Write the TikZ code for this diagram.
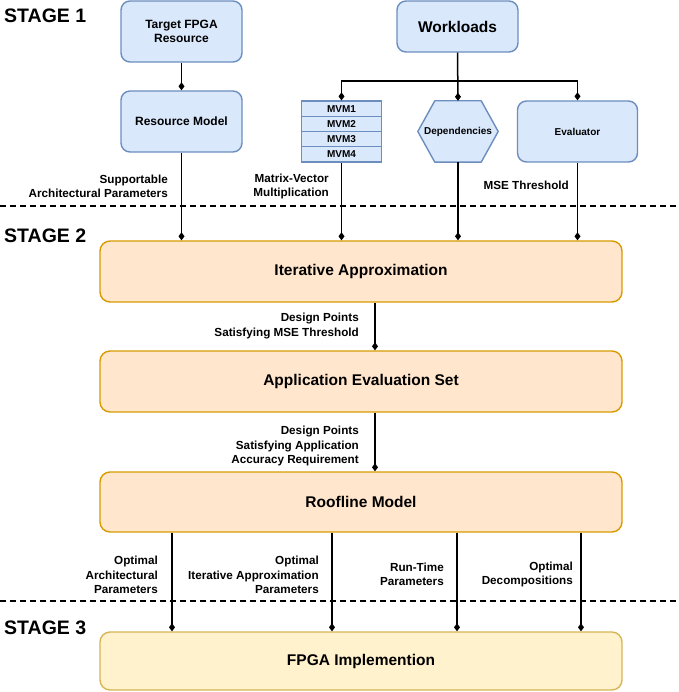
\documentclass[tikz,border=0pt]{standalone}
\usepackage{fontspec}
\setmainfont{Liberation Sans}
\usetikzlibrary{arrows.meta,backgrounds}
\definecolor{bfill}{HTML}{DAE8FC}\definecolor{bdraw}{HTML}{6C8EBF}
\definecolor{ofill}{HTML}{FFE6CC}\definecolor{odraw}{HTML}{D79B00}
\definecolor{yfill}{HTML}{FFF2CC}\definecolor{ydraw}{HTML}{D6B656}
\begin{document}
\begin{tikzpicture}[x=1pt,y=-1pt,
  bluebox/.style={draw=bdraw,fill=bfill,line width=1.4pt,rounded corners=9pt,inner sep=0pt,font=\fontsize{12}{14}\selectfont\bfseries,align=center},
  mvmrow/.style={draw=bdraw,fill=bfill,line width=1.2pt,inner sep=0pt,minimum width=80pt,minimum height=15.25pt,font=\fontsize{10}{11}\selectfont\bfseries},
  bigbox/.style={line width=1.4pt,rounded corners=10pt,inner sep=0pt,minimum width=522pt,font=\fontsize{15.5}{18}\selectfont\bfseries},
  conn/.style={line width=1.5pt,-{Diamond[length=8pt,width=6pt]}},
  lbl/.style={anchor=east,align=right,inner sep=0pt,font=\fontsize{11.7}{14.5}\selectfont\bfseries},
  stagelbl/.style={anchor=west,inner sep=0pt,font=\fontsize{19.5}{22}\selectfont\bfseries},
  sep/.style={line width=1.2pt,dash pattern=on 6pt off 4pt}]
\useasboundingbox (0,0) rectangle (678,692);

% stage labels and separators
\node[stagelbl] (s1) at (4,16) {STAGE 1};
\node[stagelbl] (s2) at (4,236) {STAGE 2};
\node[stagelbl] (s3) at (4,628) {STAGE 3};
\draw[sep] (0,206) -- (678,206);
\draw[sep] (0,601) -- (678,601);

% stage 1
\node[bluebox,minimum width=121pt,minimum height=61pt] (tgt) at (181.5,31.5) {Target FPGA\\Resource};
\node[bluebox,minimum width=121pt,minimum height=61pt] (rm) at (181.5,121.5) {Resource Model};
\node[bluebox,minimum width=121pt,minimum height=51pt,font=\fontsize{15.5}{18}\selectfont\bfseries] (wl) at (457.5,26.5) {Workloads};
\node[mvmrow] (mvm1) at (341.5,108.6) {MVM1};
\node[mvmrow] (mvm2) at (341.5,123.9) {MVM2};
\node[mvmrow] (mvm3) at (341.5,139.1) {MVM3};
\node[mvmrow] (mvm4) at (341.5,154.4) {MVM4};
\node[inner sep=0pt,minimum width=80pt,minimum height=61pt,font=\fontsize{10}{12}\selectfont\bfseries] (dep) at (458,131.5) {Dependencies};
\begin{scope}[on background layer]
\draw[draw=bdraw,fill=bfill,line width=1.4pt,line join=round] (dep.west) -- ([xshift=17pt]dep.north west) -- ([xshift=-17pt]dep.north east) -- (dep.east) -- ([xshift=-17pt]dep.south east) -- ([xshift=17pt]dep.south west) -- cycle;
\end{scope}
\node[bluebox,minimum width=120pt,minimum height=61pt,font=\fontsize{10}{12}\selectfont\bfseries] (ev) at (577.5,131.5) {Evaluator};

% stage 2 boxes
\node[bigbox,draw=odraw,fill=ofill,minimum height=61pt] (ia) at (361,271.5) {Iterative Approximation};
\node[bigbox,draw=odraw,fill=ofill,minimum height=61pt] (ae) at (361,381.5) {Application Evaluation Set};
\node[bigbox,draw=odraw,fill=ofill,minimum height=60pt] (rf) at (361,502) {Roofline Model};
\node[bigbox,draw=ydraw,fill=yfill,minimum height=58pt] (fp) at (361,661) {FPGA Implemention};

% connectors stage 1
\draw[conn] (tgt) -- (rm);
\coordinate (br) at (457.5,81);
\draw[conn] (wl.south) -- (dep.north);
\draw[conn] (wl.south) -- (br) -| (mvm1.north);
\draw[conn] (br) -| (ev.north);
\draw[conn] (rm.south) -- (rm.south |- ia.north);
\draw[conn] (mvm4.south) -- (mvm4.south |- ia.north);
\draw[conn] (dep.south) -- (dep.south |- ia.north);
\draw[conn] (ev.south) -- (ev.south |- ia.north);

\node[lbl] (l1) at (168,186.5) {Supportable\\Architectural Parameters};
\node[lbl] (l2) at (329,186.5) {Matrix-Vector\\Multiplication};
\node[lbl] (l3) at (569,185) {MSE Threshold};

% stage 2 connectors
\draw[conn] ([xshift=14pt]ia.south) -- ([xshift=14pt]ae.north);
\draw[conn] ([xshift=14pt]ae.south) -- ([xshift=14pt]rf.north);
\node[lbl] (l4) at (359,326) {Design Points\\Satisfying MSE Threshold};
\node[lbl] (l5) at (359,446) {Design Points\\Satisfying Application\\Accuracy Requirement};

% stage 3 connectors
\draw[conn] ([xshift=-189pt]rf.south) -- ([xshift=-189pt]fp.north);
\draw[conn] ([xshift=-29pt]rf.south) -- ([xshift=-29pt]fp.north);
\draw[conn] ([xshift=96pt]rf.south) -- ([xshift=96pt]fp.north);
\draw[conn] ([xshift=220pt]rf.south) -- ([xshift=220pt]fp.north);
\node[lbl] (l6) at (158,575) {Optimal\\Architectural\\Parameters};
\node[lbl] (l7) at (319,575) {Optimal\\Iterative Approximation\\Parameters};
\node[lbl] (l8) at (444,574.5) {Run-Time\\Parameters};
\node[lbl] (l9) at (573,574.5) {Optimal\\Decompositions};
\end{tikzpicture}
\end{document}
